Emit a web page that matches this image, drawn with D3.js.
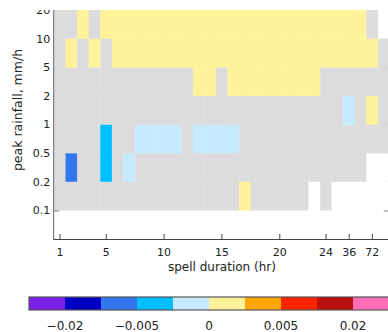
<!DOCTYPE html>
<html>
<head>
<meta charset="utf-8">
<script src="https://cdn.jsdelivr.net/npm/d3@7"></script>
<style>
  body { margin: 0; background: #fff; }
  svg { display: block; }
  text { font-family: "DejaVu Sans", sans-serif; fill: #222; }
</style>
</head>
<body>
<div id="chart"></div>
<script>
// spell duration columns (hours); only some get a label
const durations = ["1","2","3","4","5","6","7","8","9","10","11","12","13","14","15","16",
                   "17","18","19","20","21","22","23","24","30","36","48","72","96"];
const xTickLabels = ["1","5","10","15","20","24","36","72"];

// peak rainfall class edges (mm/h), rows are between two edges
const rainEdges = ["0.1","0.2","0.5","1","2","5","10","20"];

// cell values: 0 = no significant change (grey), null = no data
const G = 0, Y = 0.001, L = -0.001, C = -0.003, B = -0.007, N = null;
const row_10_20  = [G,G,Y,G,Y,Y,Y,Y,Y,Y,Y,Y,Y,Y,Y,Y,Y,Y,Y,Y,Y,Y,Y,Y,Y,Y,Y,G,N];
const row_5_10   = [G,Y,G,Y,G,Y,Y,Y,Y,Y,Y,Y,Y,Y,Y,Y,Y,Y,Y,Y,Y,Y,Y,Y,Y,Y,Y,Y,G];
const row_2_5    = [G,G,G,G,G,G,G,G,G,G,G,G,Y,Y,G,Y,Y,Y,Y,Y,Y,Y,Y,G,G,G,G,G,G];
const row_1_2    = [G,G,G,G,G,G,G,G,G,G,G,G,G,G,G,G,G,G,G,G,G,G,G,G,G,L,G,Y,G];
const row_05_1   = [G,G,G,G,C,G,G,L,L,L,L,G,L,L,L,L,G,G,G,G,G,G,G,G,G,G,G,G,G];
const row_02_05  = [G,B,G,G,C,G,L,G,G,G,G,G,G,G,G,G,G,G,G,G,G,G,G,G,G,G,G,N,N];
const row_01_02  = [G,G,G,G,G,G,G,G,G,G,G,G,G,G,G,G,Y,G,G,G,G,G,N,G,N,N,N,N,N];
const rows = [row_01_02, row_02_05, row_05_1, row_1_2, row_2_5, row_5_10, row_10_20];

// colour bar
const colorEdges = [-0.05,-0.02,-0.01,-0.005,-0.002,0,0.002,0.005,0.01,0.02,0.05];
const binColors = ["#7a20e6","#0000c2","#3377ee","#00bfff","#c6eaff",
                   "#fff29a","#ffa600","#ff2400","#bb1010","#ff6eb4"];
const colorTickValues = [-0.02,-0.005,0,0.005,0.02];
const colorTickLabels = ["\u22120.02","\u22120.005","0","0.005","0.02"];

const width = 388, height = 332;
const plotLeft = 54.2, plotRight = 389.7, plotTop = 10, plotBottom = 239;

const svg = d3.select("#chart").append("svg")
  .attr("width", width)
  .attr("height", height);

svg.append("clipPath").attr("id", "crop")
  .append("rect").attr("x", 0).attr("y", plotTop).attr("width", width).attr("height", height - plotTop);

const g = svg.append("g").attr("clip-path", "url(#crop)");

const x = d3.scaleBand().domain(durations).range([plotLeft, plotRight]);
const y = d3.scaleLinear().domain([0, rainEdges.length - 1]).range([210.3, plotTop]);

const color = d3.scaleThreshold()
  .domain(colorEdges.slice(1, -1))
  .range(binColors);
const fill = v => v === null ? "#fff" : (v === 0 ? "#dcdcdc" : color(v));

// frame and inward ticks (drawn under the cells like the original)
g.append("path")
  .attr("d", `M${plotLeft},${plotTop + 0.5}H${plotRight}`)
  .attr("stroke", "#999").attr("fill", "none");

g.append("g")
  .attr("transform", `translate(${plotRight},0)`)
  .call(d3.axisRight(y).tickValues(d3.range(rainEdges.length)).tickSize(-6).tickFormat(""))
  .call(a => a.select(".domain").remove())
  .call(a => a.selectAll("line").attr("stroke", "#444"));

g.append("g")
  .attr("transform", `translate(${plotLeft},0)`)
  .call(d3.axisLeft(y).tickValues(d3.range(rainEdges.length)).tickSize(-5).tickPadding(4)
    .tickFormat(i => rainEdges[i]))
  .call(a => a.select(".domain").remove())
  .call(a => a.selectAll("line").attr("stroke", "#444"))
  .call(a => a.selectAll("text").attr("font-size", 11).attr("font-family", null).style("fill", "#222"));

// heatmap cells
const cells = [];
rows.forEach((r, ri) => r.forEach((v, ci) => cells.push({ row: ri, col: durations[ci], v })));

g.append("g")
  .selectAll("rect")
  .data(cells)
  .join("rect")
  .attr("x", d => x(d.col))
  .attr("y", d => y(d.row + 1))
  .attr("width", x.bandwidth())
  .attr("height", d => y(d.row) - y(d.row + 1))
  .attr("fill", d => fill(d.v))
  .attr("stroke", d => fill(d.v))
  .attr("stroke-width", 0.3);

// left axis line
g.append("path")
  .attr("d", `M${plotLeft - 0.5},${plotTop}V${plotBottom}`)
  .attr("stroke", "#666").attr("fill", "none");

// bottom axis
g.append("g")
  .attr("transform", `translate(0,${plotBottom})`)
  .call(d3.axisBottom(x).tickValues(xTickLabels).tickSize(-5).tickSizeOuter(0).tickPadding(9))
  .call(a => a.select(".domain").attr("stroke", "#444").attr("d", `M${plotLeft - 1},0.5H${width}`))
  .call(a => a.selectAll("line").attr("stroke", "#444"))
  .call(a => a.selectAll("text").attr("font-size", 11).attr("font-family", null).style("fill", "#222"));

g.append("text")
  .attr("x", (plotLeft + plotRight) / 2)
  .attr("y", 271)
  .attr("text-anchor", "middle")
  .attr("font-size", 12)
  .text("spell duration (hr)");

g.append("text")
  .attr("transform", "translate(22,110) rotate(-90)")
  .attr("text-anchor", "middle")
  .attr("font-size", 12.5)
  .text("peak rainfall, mm/h");

// colour bar
const cb = d3.scaleLinear().domain([0, binColors.length]).range([29, 389]);
const cbTop = 297, cbH = 13;

g.append("g")
  .selectAll("rect")
  .data(binColors)
  .join("rect")
  .attr("x", (d, i) => cb(i))
  .attr("y", cbTop)
  .attr("width", (d, i) => cb(i + 1) - cb(i))
  .attr("height", cbH)
  .attr("fill", d => d);

g.append("rect")
  .attr("x", cb(0)).attr("y", cbTop)
  .attr("width", cb(binColors.length) - cb(0)).attr("height", cbH)
  .attr("fill", "none").attr("stroke", "#555").attr("stroke-width", 1.2);

g.append("g")
  .selectAll("text")
  .data(colorTickValues)
  .join("text")
  .attr("x", d => cb(colorEdges.indexOf(d)))
  .attr("y", 329.5)
  .attr("text-anchor", "middle")
  .attr("font-size", 12)
  .text((d, i) => colorTickLabels[i]);
</script>
</body>
</html>
